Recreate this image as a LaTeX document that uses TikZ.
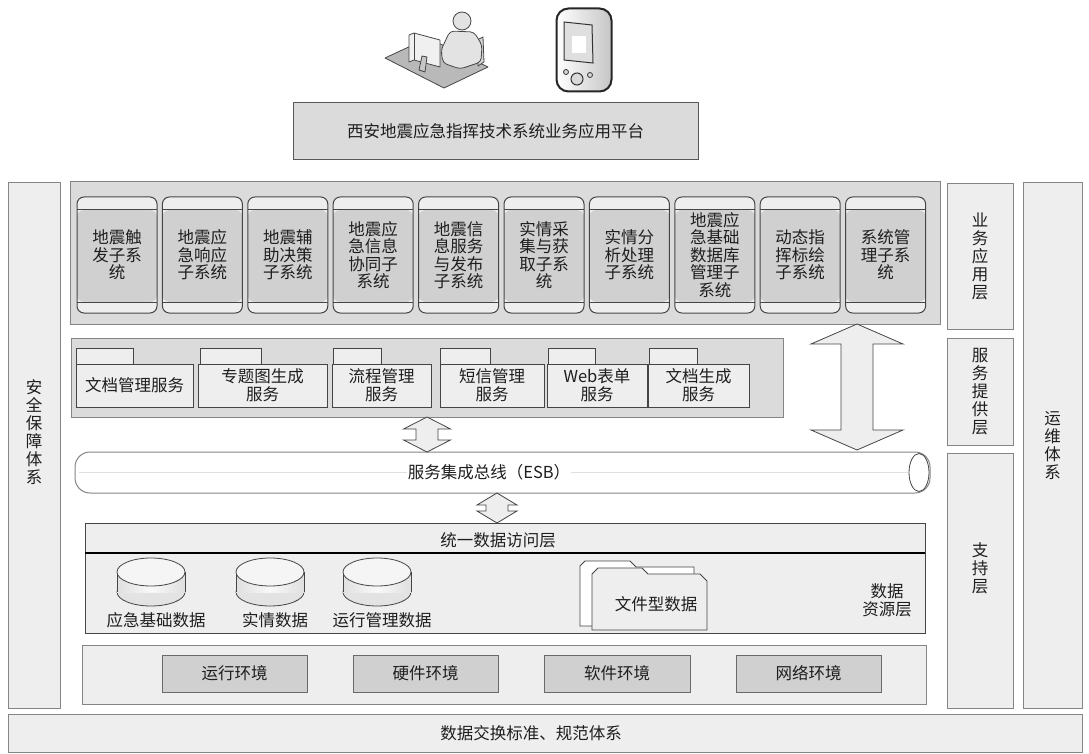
\documentclass[tikz,border=0pt]{standalone}
\usepackage{fontspec}
\setmainfont{Noto Sans CJK SC}
\usetikzlibrary{calc,shapes.geometric}
\definecolor{EdgeDark}{HTML}{454545}
\definecolor{EdgeGray}{HTML}{858585}
\definecolor{PanelGray}{HTML}{DBDBDB}
\definecolor{BandGray}{HTML}{D0D0D0}
\definecolor{SoftGray}{HTML}{EEEEEE}
\definecolor{TextGray}{HTML}{1E1E1E}
\tikzset{
  % Base box
  BX/.style={rectangle,draw=EdgeGray,line width=1pt,inner sep=0pt,outer sep=0pt,
             anchor=north west,align=center,text=TextGray,
             font=\fontsize{16.5}{18}\selectfont},
  % Layer boxes
  side/.style={BX,fill=SoftGray},
  panel/.style={BX,fill=PanelGray},
  % Subsystem card with a grey middle band
  subsys/.style={BX,draw=EdgeDark,fill=SoftGray,rounded corners=7pt,
             minimum width=80,minimum height=116,
             font=\fontsize{16.5}{17.5}\selectfont,
             path picture={
               \fill[BandGray] ([yshift=-13pt]path picture bounding box.north west)
                 rectangle ([yshift=11pt]path picture bounding box.south east);
               \draw[EdgeDark] ([yshift=-13pt]path picture bounding box.north west)
                 -- ([yshift=-13pt]path picture bounding box.north east)
                 ([yshift=11pt]path picture bounding box.south west)
                 -- ([yshift=11pt]path picture bounding box.south east);}},
  % Service folder body and tab
  fbody/.style={BX,draw=EdgeDark,fill=SoftGray,minimum height=43},
  ftab/.style={BX,draw=EdgeDark,fill=SoftGray,minimum height=16},
  % Environment boxes
  envbox/.style={BX,draw=EdgeDark!80,fill=BandGray,minimum height=37},
  % Cylinder ends
  dbcap/.style={ellipse,draw=EdgeDark,line width=0.8pt,minimum width=68,minimum height=28,inner sep=0pt},
  % Hollow double arrow
  dblarr/.style={draw=EdgeDark,line width=0.8pt,fill=SoftGray,line join=miter},
  lbl/.style={text=TextGray,font=\fontsize{16.5}{18}\selectfont,align=center,inner sep=1pt},
  icon/.style={draw=gray!55!black,line width=0.8pt,line join=round}
}
% #1 top tip, #2 bottom tip, #3 half shaft, #4 half head, #5 head length
\newcommand\updown[5]{%
  \draw[dblarr] (#1) -- ++(#4,#5) -- ++(#3-#4,0) -- ($(#2)+(#3,-#5)$) -- ++(#4-#3,0)
    -- (#2) -- ++(-#4,-#5) -- ++(#4-#3,0) -- ($(#1)+(-#3,#5)$) -- ++(#3-#4,0) -- cycle;}

\begin{document}
\begin{tikzpicture}[x=1pt,y=-1pt]
  \useasboundingbox (0,0) rectangle (1089,754);

  % workstation user
  \filldraw[icon,fill=gray!55] (385,58) -- (428,38) -- (488,67) -- (444,88) -- cycle;
  \filldraw[icon,fill=gray!35] (477,40) -- (483,37) -- (484,62) -- (478,66) -- cycle;
  \filldraw[icon,fill=gray!22,rounded corners=4pt]
    (450,31) -- (474,32) -- (482,45) -- (481,62) -- (460,69) -- (443,63) -- (441,50) -- cycle;
  \filldraw[icon,fill=gray!22] (462,21) circle[radius=9pt];
  \filldraw[icon,fill=gray!12]
    (409,35) -- (414,33) -- (440,40) -- (440,67) -- (414,60) -- (409,62) -- cycle;
  \draw[icon] (414,33) -- (414,60);
  \filldraw[icon,fill=gray!45] (419,70) -- (422,56) -- (427,57) -- (425,72) -- cycle;

  % handheld terminal
  \node[draw=black!85,line width=2pt,rounded corners=12pt,minimum width=55,minimum height=83,
        left color=white,right color=gray!45,inner sep=0pt] (pda) at (584,50) {};
  \filldraw[fill=gray!25,draw=black!80,line width=1pt] (564,22) -- (592,25) -- (593,63) -- (564,60) -- cycle;
  \fill[white] (572,36) rectangle (586,53);
  \filldraw[fill=gray!30,draw=black!80,line width=1pt] (577,79) circle[radius=6pt];
  \filldraw[fill=gray!30,draw=black!80,line width=0.8pt] (566,72) circle[radius=2.5pt];
  \filldraw[fill=gray!30,draw=black!80,line width=0.8pt] (590,75) circle[radius=2.5pt];

  % platform
  \node[panel,draw=EdgeDark!90,minimum width=405,minimum height=57] (platform) at (293,103)
    {西安地震应急指挥技术系统业务应用平台};

  % vertical systems on both sides
  \node[side,minimum width=52,minimum height=525] (safety) at (8,183) {};
  \node[lbl] (safetytext) at (34,432) {安\\全\\保\\障\\体\\系};
  \node[side,minimum width=59,minimum height=525] (ops) at (1023,183) {运\\维\\体\\系};
  \node[side,minimum width=66,minimum height=145] (bizside) at (947,184) {业\\务\\应\\用\\层};
  \node[side,minimum width=66,minimum height=107] (svcside) at (947,338) {服\\务\\提\\供\\层};
  \node[side,minimum width=66,minimum height=255] (supside) at (947,453) {};
  \node[lbl] (suptext) at (980,568) {支\\持\\层};
  \node[side,minimum width=1074,minimum height=38] (standard) at (8,714) {};
  \node[lbl] (stdtext) at (531,733) {数据交换标准、规范体系};

  % application layer
  \node[panel,minimum width=870,minimum height=142] (appbox) at (70,182) {};
  \foreach \i/\txt in {1/{地震触\\发子系\\统},2/{地震应\\急响应\\子系统},3/{地震辅\\助决策\\子系统},
      4/{地震应\\急信息\\协同子\\系统},5/{地震信\\息服务\\与发布\\子系统},6/{实情采\\集与获\\取子系\\统},
      7/{实情分\\析处理\\子系统},8/{地震应\\急基础\\数据库\\管理子\\系统},9/{动态指\\挥标绘\\子系统},
      10/{系统管\\理子系\\统}}
    \node[subsys] (sub\i) at ({77+(\i-1)*85.4},197) {\txt};

  % service layer
  \node[panel,minimum width=712,minimum height=79] (svcbox) at (71,338) {};
  \foreach \n/\xa/\xb/\ta/\tb/\txt in {1/76/193/76/133/{文档管理服务},2/198/327/200/261/{专题图生成\\服务},
      3/332/431/333/381/{流程管理\\服务},4/440/544/440/490/{短信管理\\服务},
      5/547/647/548/595/{Web表单\\服务},6/648/749/649/697/{文档生成\\服务}} {
    \node[ftab,minimum width=\tb-\ta] (tab\n) at (\ta,348) {};
    \node[fbody,minimum width=\xb-\xa] (svc\n) at (\xa,364) {\txt};
  }

  % service bus
  \node[BX,draw=EdgeGray,fill=white,rounded corners=15pt,minimum width=855,minimum height=41] (esb) at (75,452) {};
  \draw[gray!25,line width=1.2pt] ($(esb.west)+(4,0)$) -- ($(esb.east)+(-22,0)$);
  \draw[EdgeDark,line width=0.8pt] ($(esb.east)+(-11,0)$) ellipse[x radius=10pt,y radius=19pt];
  \node[lbl,fill=white] (esbtext) at (489,472) {服务集成总线（ESB）};

  % data access and data resources
  \node[BX,draw=EdgeDark,fill=SoftGray,minimum width=840,minimum height=30] (access) at (85,523) {};
  \node[lbl] (accesstext) at (498,540) {统一数据访问层};
  \node[BX,draw=EdgeDark,fill=SoftGray,minimum width=840,minimum height=80] (datares) at (85,553) {};
  \draw[black,line width=1.4pt] (access.south west) -- (access.south east);
  \node[lbl] (restext) at (887,600) {数据\\资源层};

  \foreach \n/\cx/\txt in {dbbase/151/应急基础数据,dbreal/270/实情数据,dbops/377/运行管理数据} {
    \node[dbcap,fill=gray!22] (\n-bot) at (\cx,592) {};
    \fill[left color=gray!25,right color=gray!25,middle color=gray!5] (\cx-34,572) rectangle (\cx+34,592);
    \draw[EdgeDark,line width=0.8pt] (\cx-34,572) -- (\cx-34,592) (\cx+34,572) -- (\cx+34,592);
    \node[dbcap,fill=gray!8] (\n) at (\cx,572) {};
    \node[lbl] (\n-text) at (\cx+5,620) {\txt};
  }

  % file based data
  \filldraw[fill=white,draw=EdgeDark,line width=0.8pt]
    (580,626) -- (580,566) -- (585,561) -- (630,561) -- (636,567) -- (694,567) -- (694,626) -- cycle;
  \filldraw[fill=SoftGray,draw=EdgeDark,line width=0.8pt]
    (592,630) -- (592,574) -- (598,568) -- (642,568) -- (648,574) -- (700,574) -- (707,581) -- (707,630) -- cycle;
  \node[lbl] (filedata) at (656,604) {文件型数据};

  % environments
  \node[side,draw=EdgeGray,minimum width=844,minimum height=59] (env) at (82,645) {};
  \foreach \n/\xa/\xb/\txt in {run/162/307/运行环境,hw/353/498/硬件环境,sw/544/690/软件环境,net/736/881/网络环境}
    \node[envbox,minimum width=\xb-\xa] (\n) at (\xa,655) {\txt};

  % links between layers
  \coordinate (a1t) at (427,0 |- svcbox.south);
  \coordinate (a1b) at (427,0 |- esb.north);
  \coordinate (a2t) at (497,0 |- esb.south);
  \coordinate (a2b) at (497,0 |- access.north);
  \coordinate (a3t) at (857,0 |- appbox.south);
  \coordinate (a3b) at ($(857,0 |- esb.north)+(0,-2)$);
  \updown{a1t}{a1b}{11}{23.5}{12}
  \updown{a2t}{a2b}{11}{20}{12}
  \updown{a3t}{a3b}{16}{46}{20}
\end{tikzpicture}
\end{document}
